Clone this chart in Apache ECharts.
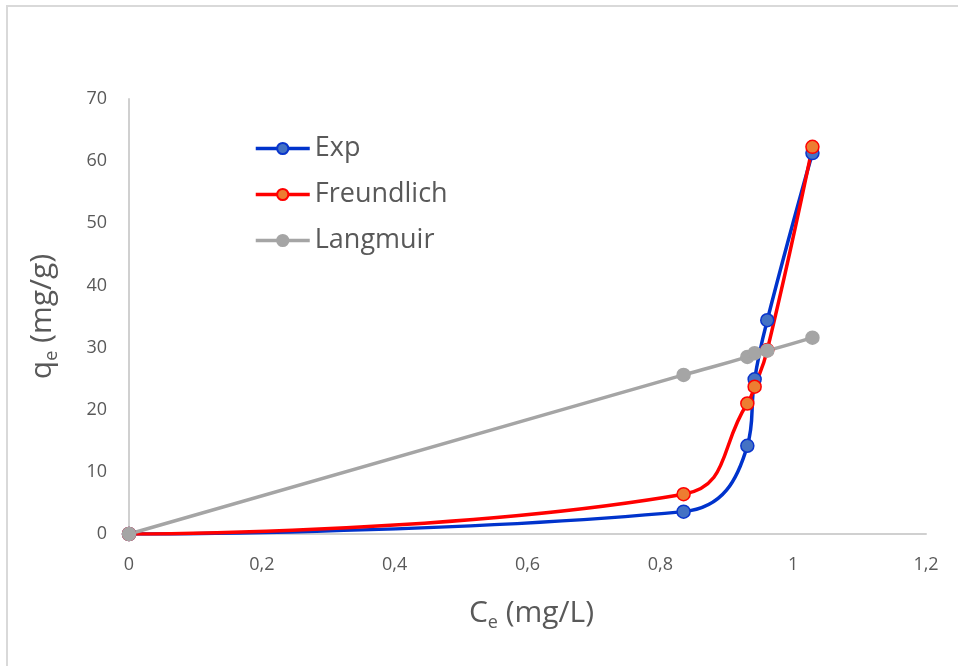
<html>
    <head>
        <meta charset="utf-8">
        <script src="https://cdn.jsdelivr.net/npm/echarts@6/dist/echarts.min.js"></script>
        <style>
            html, body { margin: 0; padding: 0; background: #fff; }
            #main { width: 958px; height: 666px; }
        </style>
    </head>
    <body>
        <div id="main"></div>

        <script>

            // Ce (mg/L) values shared by all three series
            var ce = [0, 0.835, 0.931, 0.942, 0.961, 1.029];
            var qeExp = [0, 3.6, 14.2, 24.9, 34.4, 61.3];
            var qeFreundlich = [0, 6.4, 21.0, 23.7, 29.6, 62.3];
            var qeLangmuir = [0, 25.6, 28.5, 29.1, 29.5, 31.6];

            var legendNames = ['Exp', 'Freundlich', 'Langmuir'];

            function pairs(ys) {
                return ce.map(function (x, i) { return [x, ys[i]]; });
            }

            var chart = echarts.init(document.getElementById('main'));
            var font = '"Open Sans", "Noto Sans", sans-serif';
            var textColor = '#595959';

            var titleRich = {
                a: { fontSize: 30, color: textColor, fontFamily: font, lineHeight: 38 },
                b: { fontSize: 18, color: textColor, fontFamily: font, lineHeight: 38, verticalAlign: 'bottom', padding: [14, 0, 0, 0] }
            };

            chart.setOption({
                animation: false,
                backgroundColor: '#fff',
                textStyle: { fontFamily: font },
                graphic: [{
                    type: 'rect',
                    shape: { x: 7, y: 6, width: 1000, height: 700 },
                    style: { fill: 'none', stroke: '#d9d9d9', lineWidth: 2 },
                    silent: true
                }],
                grid: { left: 129, right: 32, top: 99, bottom: 132 },
                legend: {
                    orient: 'vertical',
                    left: 249,
                    top: 130,
                    itemGap: 19,
                    itemWidth: 54,
                    itemHeight: 14,
                    data: legendNames,
                    lineStyle: { width: 3.5 },
                    textStyle: { color: textColor, fontSize: 27, fontFamily: font }
                },
                xAxis: {
                    type: 'value',
                    min: 0,
                    max: 1.2,
                    interval: 0.2,
                    name: '{a|C}{b|e}{a| (mg/L)}',
                    nameLocation: 'middle',
                    nameGap: 60,
                    nameTextStyle: { rich: titleRich, padding: [0, 0, 0, 8] },
                    axisLine: { onZero: false, lineStyle: { color: '#d0d0d0', width: 2 } },
                    axisTick: { show: false },
                    splitLine: { show: false },
                    axisLabel: {
                        color: textColor,
                        fontSize: 18,
                        margin: 22,
                        formatter: function (v) { return String(+v.toFixed(1)).replace('.', ','); }
                    }
                },
                yAxis: {
                    type: 'value',
                    min: 0,
                    max: 70,
                    interval: 10,
                    name: '{a|q}{b|e}{a| (mg/g)}',
                    nameLocation: 'middle',
                    nameGap: 68,
                    nameRotate: 90,
                    nameTextStyle: { rich: titleRich },
                    axisLine: { show: true, lineStyle: { color: '#d0d0d0', width: 2 } },
                    axisTick: { show: false },
                    splitLine: { show: false },
                    axisLabel: { color: textColor, fontSize: 18, margin: 22 }
                },
                series: [
                    {
                        name: 'Exp',
                        type: 'line',
                        smooth: 0.45,
                        symbol: 'circle',
                        symbolSize: 13,
                        lineStyle: { color: '#0033cc', width: 3.5 },
                        itemStyle: { color: '#4472c4', borderColor: '#0a35cc', borderWidth: 1.5 },
                        data: pairs(qeExp)
                    },
                    {
                        name: 'Freundlich',
                        type: 'line',
                        smooth: 0.45,
                        symbol: 'circle',
                        symbolSize: 13,
                        lineStyle: { color: '#ff0000', width: 3.5 },
                        itemStyle: { color: '#ed7d31', borderColor: '#ff0000', borderWidth: 1.5 },
                        data: pairs(qeFreundlich)
                    },
                    {
                        name: 'Langmuir',
                        type: 'line',
                        smooth: 0.45,
                        symbol: 'circle',
                        symbolSize: 13,
                        lineStyle: { color: '#a5a5a5', width: 3.5 },
                        itemStyle: { color: '#a5a5a5', borderColor: '#a5a5a5', borderWidth: 1.5 },
                        data: pairs(qeLangmuir)
                    }
                ]
            });

        </script>
    </body>
</html>
